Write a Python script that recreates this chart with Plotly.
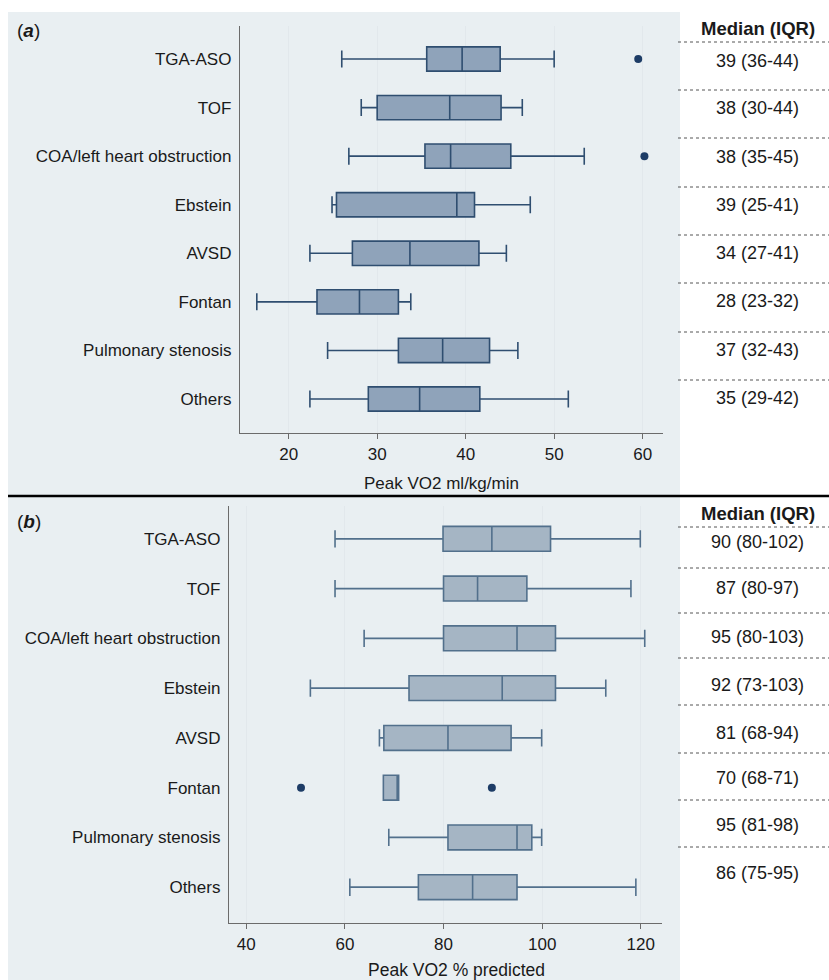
import plotly.graph_objects as go

W, H = 829, 980

# ---------------- data ----------------
categories = ["TGA-ASO", "TOF", "COA/left heart obstruction", "Ebstein",
              "AVSD", "Fontan", "Pulmonary stenosis", "Others"]

# Panel (a): Peak VO2 ml/kg/min
a_low = [26.0, 28.2, 26.8, 24.9, 22.4, 16.4, 24.4, 22.4]
a_q1 = [35.6, 30.0, 35.4, 25.4, 27.2, 23.2, 32.4, 29.0]
a_med = [39.6, 38.2, 38.3, 39.0, 33.7, 28.0, 37.4, 34.8]
a_q3 = [43.9, 44.0, 45.1, 41.0, 41.5, 32.4, 42.7, 41.6]
a_high = [50.0, 46.4, 53.4, 47.3, 44.6, 33.8, 45.9, 51.6]
a_out_cat = ["TGA-ASO", "COA/left heart obstruction"]
a_out_val = [59.5, 60.2]
a_table = ["39 (36-44)", "38 (30-44)", "38 (35-45)", "39 (25-41)",
           "34 (27-41)", "28 (23-32)", "37 (32-43)", "35 (29-42)"]
a_ticks = [20, 30, 40, 50, 60]

# Panel (b): Peak VO2 % predicted
b_low = [58.0, 58.0, 63.9, 53.0, 67.0, 67.8, 68.9, 61.0]
b_q1 = [79.9, 80.0, 80.0, 73.0, 67.9, 67.8, 80.9, 74.9]
b_med = [89.8, 86.9, 94.9, 91.9, 80.9, 70.6, 94.9, 85.9]
b_q3 = [101.7, 96.9, 102.7, 102.7, 93.7, 70.9, 97.9, 94.9]
b_high = [119.9, 118.0, 120.8, 112.9, 99.9, 70.9, 99.9, 119.0]
b_out_cat = ["Fontan", "Fontan"]
b_out_val = [51.1, 89.8]
b_table = ["90 (80-102)", "87 (80-97)", "95 (80-103)", "92 (73-103)",
           "81 (68-94)", "70 (68-71)", "95 (81-98)", "86 (75-95)"]
b_ticks = [40, 60, 80, 100, 120]

# ---------------- styling ----------------
FONT = "Liberation Sans, Arial, sans-serif"
BG = "#e9eff2"
TXT = "#1a1a1a"


def px(x):
    return x / W


def py(y):
    return 1 - y / H


fig = go.Figure()

fig.add_trace(go.Box(
    y=categories, q1=a_q1, median=a_med, q3=a_q3,
    lowerfence=a_low, upperfence=a_high, orientation="h",
    width=0.5, whiskerwidth=0.7, boxpoints=False,
    fillcolor="#8fa3ba", line=dict(color="#2f4e70", width=1.6),
    xaxis="x", yaxis="y", showlegend=False, hoverinfo="skip"))
fig.add_trace(go.Scatter(
    x=a_out_val, y=a_out_cat, mode="markers",
    marker=dict(color="#1d3c66", size=8),
    xaxis="x", yaxis="y", showlegend=False, hoverinfo="skip"))

fig.add_trace(go.Box(
    y=categories, q1=b_q1, median=b_med, q3=b_q3,
    lowerfence=b_low, upperfence=b_high, orientation="h",
    width=0.5, whiskerwidth=0.7, boxpoints=False,
    fillcolor="#a5b5c4", line=dict(color="#52708c", width=1.6),
    xaxis="x2", yaxis="y2", showlegend=False, hoverinfo="skip"))
fig.add_trace(go.Scatter(
    x=b_out_val, y=b_out_cat, mode="markers",
    marker=dict(color="#1d3c66", size=8),
    xaxis="x2", yaxis="y2", showlegend=False, hoverinfo="skip"))

xcommon = dict(showgrid=True, gridcolor="#e2e8ec", gridwidth=1,
               showline=True, linecolor="#6b6b6b", linewidth=1.3,
               ticks="outside", ticklen=5, tickcolor="#6b6b6b",
               zeroline=False, tickfont=dict(family=FONT, size=17, color=TXT))
ycommon = dict(type="category", showgrid=False, showline=True,
               linecolor="#6b6b6b", linewidth=1.3, ticks="",
               ticklabelstandoff=4, zeroline=False,
               tickfont=dict(family=FONT, size=17, color=TXT))

fig.update_layout(
    width=W, height=H, margin=dict(l=0, r=0, t=0, b=0),
    paper_bgcolor="white", plot_bgcolor="white", hovermode=False,
    xaxis=dict(domain=[px(240), px(663)], range=[14.5, 62.3],
               tickvals=a_ticks, anchor="y", **xcommon),
    yaxis=dict(domain=[py(433), py(26)], range=[7.70, -0.68],
               categoryorder="array", categoryarray=categories,
               anchor="x", **ycommon),
    xaxis2=dict(domain=[px(229), px(662)], range=[36.5, 124.3],
                tickvals=b_ticks, anchor="y2", **xcommon),
    yaxis2=dict(domain=[py(923), py(506)], range=[7.72, -0.66],
                categoryorder="array", categoryarray=categories,
                anchor="x2", **ycommon),
)

shapes = [
    dict(type="rect", xref="paper", yref="paper", x0=px(8), x1=px(680),
         y0=0, y1=py(12), fillcolor=BG, line=dict(width=0), layer="below"),
    dict(type="line", xref="paper", yref="paper", x0=px(8), x1=1,
         y0=py(496), y1=py(496), line=dict(color="black", width=2.5)),
]
a_dots = [42, 90, 138, 187, 235, 283, 332, 380]
b_dots = [527, 568, 613, 658, 705, 753, 800, 847]
for yy in a_dots + b_dots:
    shapes.append(dict(type="line", xref="paper", yref="paper",
                       x0=px(678), x1=1, y0=py(yy), y1=py(yy),
                       line=dict(color="#555555", width=1, dash="dot")))
fig.update_layout(shapes=shapes)

ann = []
a_rows = [61, 108, 157, 205, 253, 301, 350, 398]
b_rows = [542, 588, 637, 685, 733, 778, 825, 873]
for txt, yy in zip(a_table, a_rows):
    ann.append(dict(text=txt, x=px(757), y=py(yy)))
for txt, yy in zip(b_table, b_rows):
    ann.append(dict(text=txt, x=px(757), y=py(yy)))
ann = [dict(a, xref="paper", yref="paper", showarrow=False,
            xanchor="center", yanchor="middle",
            font=dict(family=FONT, size=18, color=TXT)) for a in ann]
for yy in (28, 513):
    ann.append(dict(text="<b>Median (IQR)</b>", x=px(758), y=py(yy),
                    xref="paper", yref="paper", showarrow=False,
                    xanchor="center", yanchor="middle",
                    font=dict(family=FONT, size=18.5, color=TXT)))
ann.append(dict(text="(<b><i>a</i></b>)", x=px(15), y=py(30)))
ann.append(dict(text="(<b><i>b</i></b>)", x=px(15), y=py(521)))
for a in ann[-2:]:
    a.update(xref="paper", yref="paper", showarrow=False, xanchor="left",
             yanchor="middle", font=dict(family=FONT, size=19, color=TXT))
ann.append(dict(text="Peak VO2 ml/kg/min", x=px(441), y=py(483),
                xref="paper", yref="paper", showarrow=False,
                xanchor="center", yanchor="middle",
                font=dict(family=FONT, size=17, color=TXT)))
ann.append(dict(text="Peak VO2 % predicted", x=px(456), y=py(970),
                xref="paper", yref="paper", showarrow=False,
                xanchor="center", yanchor="middle",
                font=dict(family=FONT, size=17.5, color=TXT)))
fig.update_layout(annotations=ann)

fig.write_html(
    "out.html",
    config={"displayModeBar": False},
    post_script="document.body.style.margin='0';"
                "document.body.style.overflow='hidden';")
